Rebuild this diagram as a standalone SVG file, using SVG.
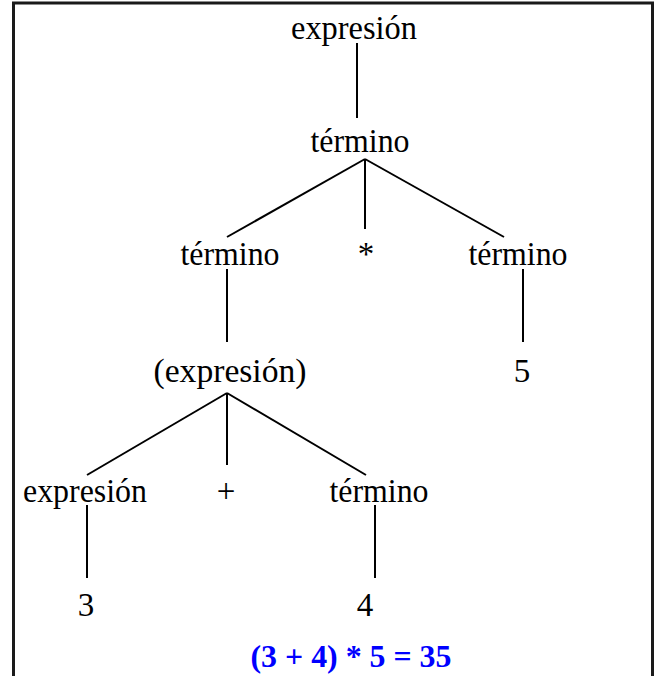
<svg xmlns="http://www.w3.org/2000/svg" width="656" height="676" viewBox="0 0 656 676">
<style>
text{font-family:'Liberation Serif',Tinos,'Times New Roman',Times,serif;text-anchor:middle}
.t{font-size:33px;fill:#000}
.r{font-size:32px;font-weight:bold;fill:#0000ff}
.e{stroke:#000;stroke-width:2;fill:none}
</style>
<rect x="0" y="0" width="656" height="676" fill="#fff"/>
<rect x="13.5" y="3" width="639" height="720" fill="none" stroke="#1a1a1a" stroke-width="3"/>
<g id="connectors">
<line class="e" x1="357" y1="43" x2="357" y2="118"/>
<line class="e" x1="365" y1="159" x2="227" y2="237"/>
<line class="e" x1="365" y1="159" x2="365" y2="229"/>
<line class="e" x1="365" y1="159" x2="504" y2="237"/>
<line class="e" x1="227" y1="269" x2="227" y2="342"/>
<line class="e" x1="523" y1="269" x2="523" y2="342"/>
<line class="e" x1="227" y1="393" x2="87" y2="475"/>
<line class="e" x1="227" y1="393" x2="227" y2="465"/>
<line class="e" x1="227" y1="393" x2="366" y2="475"/>
<line class="e" x1="87" y1="505" x2="87" y2="578"/>
<line class="e" x1="375" y1="505" x2="375" y2="578"/>
</g>
<g id="n1"><text class="t" x="354" y="39" textLength="126" lengthAdjust="spacingAndGlyphs">expresión</text></g>
<g id="n2"><text class="t" x="360" y="152" textLength="99" lengthAdjust="spacingAndGlyphs">término</text></g>
<g id="n3"><text class="t" x="230" y="265" textLength="99" lengthAdjust="spacingAndGlyphs">término</text></g>
<g id="n4"><text class="t" x="366" y="265">*</text></g>
<g id="n5"><text class="t" x="518" y="265" textLength="99" lengthAdjust="spacingAndGlyphs">término</text></g>
<g id="n6"><text class="t" x="230" y="382" textLength="153" lengthAdjust="spacingAndGlyphs">(expresión)</text></g>
<g id="n7"><text class="t" x="522" y="382">5</text></g>
<g id="n8"><text class="t" x="85" y="502" textLength="124" lengthAdjust="spacingAndGlyphs">expresión</text></g>
<g id="n9"><text class="t" x="226" y="502">+</text></g>
<g id="n10"><text class="t" x="379" y="502" textLength="99" lengthAdjust="spacingAndGlyphs">término</text></g>
<g id="n11"><text class="t" x="86" y="616">3</text></g>
<g id="n12"><text class="t" x="365" y="616">4</text></g>
<g id="result"><text class="r" x="351" y="667" textLength="201" lengthAdjust="spacingAndGlyphs">(3 + 4) * 5 = 35</text></g>
</svg>
